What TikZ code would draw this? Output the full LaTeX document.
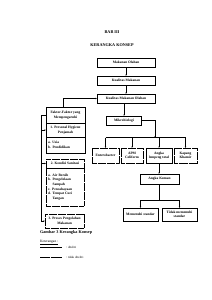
\documentclass[tikz,border=0pt]{standalone}
\usepackage{fontspec}
\setmainfont{Liberation Serif}
\usetikzlibrary{positioning}
\begin{document}
\begin{tikzpicture}[x=1mm,y=-1mm,
  box/.style={draw,line width=1.2pt,align=center,inner sep=1pt,font=\bfseries\fontsize{10}{13}\selectfont},
  dbox/.style={box,dash pattern=on 2pt off 1.2pt},
  link/.style={thick,>=stealth,->}]
\useasboundingbox (0,0) rectangle (212,300);

  % heading
  \node[font=\bfseries\fontsize{12}{14}\selectfont] at (112,32) (bab) {BAB III};
  \node[font=\bfseries\fontsize{12}{14}\selectfont] at (112,45) (judul) {KERANGKA KONSEP};

  % main column
  \node[box,minimum width=58mm,minimum height=9mm] at (126,62.5) (makanan) {Makanan Olahan};
  \node[box,minimum width=58mm,minimum height=9mm] at (126,80.5) (kualitas) {Kualitas Makanan};
  \node[box,minimum width=58mm,minimum height=9mm] at (126,98.5) (kmo) {Kualitas Makanan Olahan};
  \draw[link] (makanan) -- (kualitas);
  \draw[link] (kualitas) -- (kmo);

  % factors
  \node[box,minimum width=39mm,minimum height=16mm] at (65.5,115) (f0) {Faktor-Faktor yang\\Mempengaruhi};
  \node[box,minimum width=39mm,minimum height=14mm] at (65.5,130) (f1) {1. Personal Hygiene\\Penjamah};
  \node[box,minimum width=39mm,minimum height=16mm,text width=35mm,align=left] at (65.5,145) (f2) {a. Usia\\b. Pendidikan};

  \node[dbox,minimum width=38mm,minimum height=9mm] at (65,163.5) (s2h) {2. Kondisi Sanitasi};
  \node[dbox,minimum width=38mm,minimum height=38mm,text width=34mm,align=left] at (65,187) (s2b)
    {a. Air Bersih\\b. Pengelolaan\\\phantom{b. }Sampah\\c. Pencahayaan\\d. Tempat Cuci\\\phantom{d. }Tangan};

  \node[dbox,minimum width=39mm,minimum height=14mm] at (64.5,221) (p3) {3. Proses Pengolahan\\Makanan};

  % factors to quality
  \draw[link] ([xshift=-2.5mm]f0.north) |- (kmo.west);
  \draw[link] (f0.west) -- (41,0 |- f0.west) |- (p3.west);
  \draw[link] (41,0 |- f1.west) -- (f1.west);
  \draw[link] (41,0 |- s2h.west) -- (s2h.west);

  % microbiology
  \node[box,minimum width=35mm,minimum height=9mm] at (124,120.5) (mikro) {Mikrobiologi};
  \draw[link] (mikro.north |- kmo.south) -- (mikro.north);
  \coordinate (bus) at (155,137.5);
  \draw[link] (mikro.east) -| (bus);

  \node[dbox,minimum width=27mm,minimum height=15mm] at (105.5,155.5) (ent) {Enterobacter};
  \node[dbox,minimum width=22mm,minimum height=15mm] at (132,155.5) (apm) {APM\\Coliform};
  \node[box,minimum width=26mm,minimum height=15mm] at (159,155.5) (alt) {Angka\\lempeng total};
  \node[dbox,minimum width=23mm,minimum height=15mm] at (185.5,155.5) (kap) {Kapang\\Khamir};
  \draw[thick] (ent.north |- bus) -- (kap.north |- bus);
\foreach \n in {ent,apm,alt,kap}
  \draw[link] (\n.north |- bus) -- (\n.north);

  % germ count
  \node[box,minimum width=39mm,minimum height=10mm] at (159.5,179) (ak) {Angka Kuman};
  \draw[link] (alt.south) -- (ak.north -| alt.south);

  \node[box,minimum width=35mm,minimum height=13mm] at (140.5,214.5) (mem) {Memenuhi standar};
  \node[box,minimum width=35mm,minimum height=13mm] at (179.5,214.5) (tdk) {Tidak memenuhi\\standar};
  \coordinate (cabang) at (159.5,200);
  \draw[thick] (ak.south) -- (cabang);
  \draw[thick] (mem.north |- cabang) -- (tdk.north |- cabang);
\foreach \n in {mem,tdk}
  \draw[link] (\n.north |- cabang) -- (\n.north);

  % caption and legend
  \node[anchor=west,inner sep=0pt,font=\bfseries\fontsize{12}{14}\selectfont] at (40,232) (gambar) {Gambar 3 Kerangka Konsep};
  \node[anchor=west,inner sep=0pt,font=\fontsize{10}{12}\selectfont] at (40,242) (ket) {\underline{Keterangan :}};
  \node[anchor=west,inner sep=0pt,font=\fontsize{9}{11}\selectfont] at (66,247) (diteliti) {: diteliti};
  \node[anchor=west,inner sep=0pt,font=\fontsize{9}{11}\selectfont] at (66,257) (tidak) {: tidak diteliti};
  \draw[line width=1pt] (40,0 |- diteliti.west) -- ([xshift=-4mm]diteliti.west);
  \draw[line width=0.8pt,dash pattern=on 2pt off 1pt] (40,0 |- tidak.west) -- ([xshift=-4mm]tidak.west);

\end{tikzpicture}
\end{document}
